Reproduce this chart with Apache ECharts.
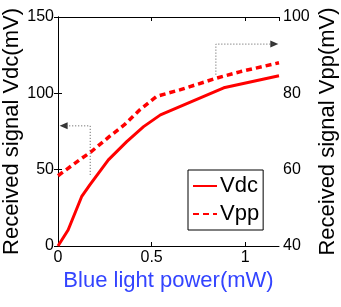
<!DOCTYPE html>
<html><head><meta charset="utf-8">
<script src="https://cdn.jsdelivr.net/npm/echarts@6/dist/echarts.min.js"></script>
<style>html,body{margin:0;padding:0;background:#fff}#c{width:341px;height:307px}</style>
</head><body><div id="c"></div>
<script>
const xTicks = [0, 0.5, 1];
const vdcData = [[0,0],[0.054,10.5],[0.126,32.3],[0.17,40],[0.269,56.4],[0.367,68.4],[0.457,78.2],[0.547,85.9],[0.885,103.6],[1.18,111.5]];
const vppData = [[0,58.4],[0.116,62.6],[0.177,64.7],[0.275,68.7],[0.355,71.8],[0.437,75.7],[0.526,79.2],[0.65,80.9],[0.848,84],[0.975,85.7],[1.18,88]];
const leftArrow = [[0.172,46.6],[0.172,78.7],[0.03,78.7]];
const rightArrow = [[0.843,84.9],[0.843,92.9],[1.15,92.9]];
const leftArrowHead = [[0.03,78.7]];
const rightArrowHead = [[1.155,92.9]];
const FONT = 'Liberation Sans, Arial, sans-serif';
const chart = echarts.init(document.getElementById('c'));
const tickStyle = {show:true, inside:true, length:4, lineStyle:{color:'#000',width:1}};
const lineStyleAxis = {show:true, lineStyle:{color:'#000',width:1}};
chart.setOption({
  animation:false,
  backgroundColor:'#fff',
  grid:{left:58, right:62, top:17, bottom:61, containLabel:false, outerBoundsMode:'none'},
  legend:{
    left:188, top:170, orient:'vertical', itemWidth:24, itemHeight:14, itemGap:6,
    padding:[5,4,5,4], borderColor:'#000', borderWidth:1, backgroundColor:'#fff',
    itemStyle:{opacity:0},
    textStyle:{fontSize:22, fontFamily:FONT, color:'#000', padding:[0,0,0,-2]},
    data:['Vdc','Vpp']
  },
  xAxis:[{
    type:'value', min:0, max:1.18, interval:0.5, position:'bottom',
    axisLine:lineStyleAxis, axisTick:tickStyle, splitLine:{show:false},
    axisLabel:{fontSize:16, fontFamily:FONT, color:'#000', margin:4, showMaxLabel:false,
      formatter:v=>xTicks.includes(v)?String(v):''},
    name:'Blue light power(mW)', nameLocation:'middle', nameGap:24, nameMoveOverlap:false,
    nameTextStyle:{fontSize:22, fontFamily:FONT, color:'#3344ff'}
  },{
    type:'value', min:0, max:1.18, interval:0.5, position:'top',
    axisLine:lineStyleAxis, axisTick:tickStyle, splitLine:{show:false},
    axisLabel:{show:false}
  }],
  yAxis:[{
    type:'value', min:0, max:150, interval:50, position:'left',
    axisLine:lineStyleAxis, axisTick:tickStyle, splitLine:{show:false},
    axisLabel:{fontSize:16, fontFamily:FONT, color:'#000', margin:4},
    name:'Received signal Vdc(mV)', nameLocation:'middle', nameGap:35, nameMoveOverlap:false,
    nameTextStyle:{fontSize:22, fontFamily:FONT, color:'#000'}
  },{
    type:'value', min:40, max:100, interval:20, position:'right',
    axisLine:lineStyleAxis, axisTick:tickStyle, splitLine:{show:false},
    axisLabel:{fontSize:16, fontFamily:FONT, color:'#000', margin:4},
    name:'Received signal Vpp(mV)', nameLocation:'middle', nameGap:38, nameMoveOverlap:false,
    nameTextStyle:{fontSize:22, fontFamily:FONT, color:'#000'}
  }],
  series:[{
    name:'Vdc', type:'line', data:vdcData, xAxisIndex:0, yAxisIndex:0,
    symbol:'none', lineStyle:{color:'#ff0000', width:3}, itemStyle:{color:'#ff0000'}
  },{
    name:'Vpp', type:'line', data:vppData, xAxisIndex:0, yAxisIndex:1,
    symbol:'none', lineStyle:{color:'#ff0000', width:3.5, type:[6,4]}, itemStyle:{color:'#ff0000'}
  },{
    type:'line', data:leftArrow, xAxisIndex:0, yAxisIndex:0, symbol:'none', silent:true,
    lineStyle:{color:'#555', width:1, type:[1,2]}
  },{
    type:'line', data:rightArrow, xAxisIndex:0, yAxisIndex:1, symbol:'none', silent:true,
    lineStyle:{color:'#555', width:1, type:[1,2]}
  },{
    type:'scatter', data:leftArrowHead, xAxisIndex:0, yAxisIndex:0, silent:true,
    symbol:'triangle', symbolSize:[7,8], symbolRotate:90, itemStyle:{color:'#000'}
  },{
    type:'scatter', data:rightArrowHead, xAxisIndex:0, yAxisIndex:1, silent:true,
    symbol:'triangle', symbolSize:[7,8], symbolRotate:-90, itemStyle:{color:'#000'}
  }]
});
</script></body></html>
